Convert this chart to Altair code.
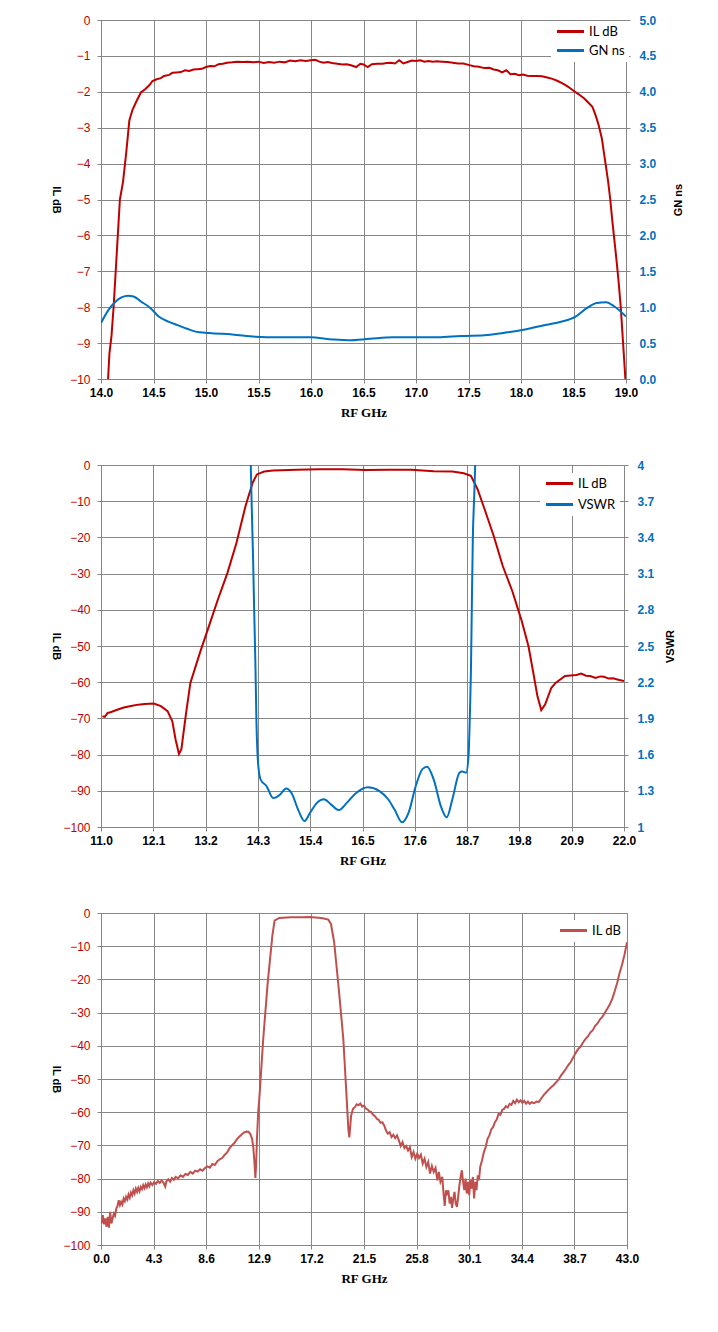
import altair as alt
import pandas as pd

RED = "#C00000"
BLUE = "#0070C0"
RED3 = "#C0504D"
GRID = "#868686"

# ---------------- Chart 1 data ----------------
c1_il_f = [14.06, 14.08, 14.10, 14.12, 14.15, 14.18, 14.21, 14.24, 14.27, 14.30, 14.34, 14.38,
           14.42, 14.46, 14.49, 14.53, 14.57, 14.60, 14.65, 14.68, 14.72, 14.76, 14.80, 14.84,
           14.88, 14.92, 14.96, 15.00, 15.04, 15.08, 15.12, 15.16, 15.20, 15.25, 15.30, 15.35,
           15.40, 15.45, 15.50, 15.55, 15.60, 15.65, 15.70, 15.75, 15.80, 15.85, 15.90, 15.95,
           16.00, 16.04, 16.08, 16.12, 16.16, 16.20, 16.25, 16.30, 16.34, 16.38, 16.43, 16.47,
           16.50, 16.54, 16.58, 16.63, 16.68, 16.72, 16.76, 16.80, 16.84, 16.88, 16.92, 16.96,
           17.00, 17.04, 17.08, 17.12, 17.16, 17.20, 17.25, 17.30, 17.35, 17.40, 17.45, 17.50,
           17.55, 17.60, 17.65, 17.70, 17.74, 17.78, 17.82, 17.86, 17.90, 17.94, 17.98, 18.02,
           18.06, 18.10, 18.15, 18.20, 18.25, 18.30, 18.35, 18.40, 18.45, 18.50, 18.55, 18.60,
           18.64, 18.68, 18.71, 18.74, 18.77, 18.79, 18.81, 18.83, 18.85, 18.87, 18.89, 18.91,
           18.93, 18.95, 18.97, 18.99, 19.00]
c1_il_db = [-10.4, -9.3, -8.8, -8.0, -6.5, -5.0, -4.5, -3.7, -2.8, -2.5, -2.25, -2.02,
            -1.93, -1.82, -1.70, -1.65, -1.62, -1.56, -1.53, -1.47, -1.46, -1.45, -1.40, -1.42,
            -1.38, -1.37, -1.36, -1.31, -1.28, -1.29, -1.23, -1.22, -1.19, -1.18, -1.16, -1.17,
            -1.16, -1.18, -1.16, -1.20, -1.17, -1.19, -1.16, -1.18, -1.13, -1.15, -1.12, -1.14,
            -1.12, -1.11, -1.16, -1.19, -1.17, -1.20, -1.22, -1.24, -1.23, -1.26, -1.31, -1.22,
            -1.24, -1.31, -1.23, -1.22, -1.22, -1.20, -1.19, -1.21, -1.12, -1.21, -1.17, -1.13,
            -1.14, -1.12, -1.16, -1.14, -1.16, -1.15, -1.16, -1.17, -1.19, -1.21, -1.21, -1.25,
            -1.29, -1.30, -1.34, -1.33, -1.38, -1.40, -1.46, -1.40, -1.51, -1.50, -1.54, -1.52,
            -1.55, -1.56, -1.56, -1.57, -1.60, -1.64, -1.70, -1.77, -1.86, -1.97, -2.07, -2.18,
            -2.30, -2.42, -2.65, -2.93, -3.30, -3.70, -4.10, -4.50, -5.00, -5.60, -6.15, -6.70,
            -7.30, -8.00, -8.90, -9.80, -10.3]
c1_gn_f = [14.00, 14.07, 14.14, 14.20, 14.26, 14.31, 14.38, 14.47, 14.55, 14.64, 14.73, 14.82,
           14.90, 15.03, 15.25, 15.47, 15.69, 15.99, 16.21, 16.36, 16.56, 16.78, 17.00, 17.21,
           17.43, 17.65, 17.87, 18.04, 18.22, 18.39, 18.52, 18.63, 18.72, 18.81, 18.89, 19.00]
c1_gn_ns = [0.78, 0.96, 1.08, 1.14, 1.16, 1.15, 1.08, 0.99, 0.87, 0.80, 0.75, 0.70,
            0.66, 0.64, 0.62, 0.59, 0.58, 0.58, 0.55, 0.54, 0.56, 0.58, 0.58, 0.58,
            0.60, 0.61, 0.65, 0.69, 0.75, 0.80, 0.87, 0.99, 1.06, 1.07, 1.01, 0.87]
c1_x_ticks = [14.0, 14.5, 15.0, 15.5, 16.0, 16.5, 17.0, 17.5, 18.0, 18.5, 19.0]
c1_yl_ticks = [0, -1, -2, -3, -4, -5, -6, -7, -8, -9, -10]
c1_yr_ticks = [0.0, 0.5, 1.0, 1.5, 2.0, 2.5, 3.0, 3.5, 4.0, 4.5, 5.0]

# ---------------- Chart 2 data ----------------
c2_il_f = [11.03, 11.08, 11.14, 11.20, 11.34, 11.48, 11.63, 11.78, 11.92, 12.11, 12.26, 12.40,
           12.50, 12.57, 12.64, 12.69, 12.74, 12.79, 12.88, 13.08, 13.27, 13.46, 13.66, 13.85,
           14.04, 14.19, 14.28, 14.43, 14.62, 15.11, 15.59, 16.07, 16.56, 17.04, 17.52, 18.00,
           18.39, 18.63, 18.78, 18.92, 19.07, 19.26, 19.45, 19.65, 19.84, 19.99, 20.08, 20.18,
           20.26, 20.34, 20.47, 20.56, 20.76, 21.00, 21.10, 21.20, 21.29, 21.40, 21.50, 21.58,
           21.68, 21.77, 21.88, 22.00]
c2_il_db = [-69.4, -69.6, -68.5, -68.3, -67.6, -67.0, -66.6, -66.2, -66.0, -65.9, -66.6, -68.0,
            -70.8, -75.9, -79.8, -78.6, -73.5, -68.5, -60.2, -51.9, -44.5, -37.1, -29.8, -21.5,
            -11.3, -4.9, -2.6, -1.8, -1.5, -1.3, -1.2, -1.2, -1.4, -1.3, -1.3, -1.7,
            -1.8, -2.3, -3.0, -6.7, -12.3, -19.6, -27.9, -34.8, -42.7, -50.0, -56.5, -63.9,
            -67.7, -66.2, -61.6, -60.2, -58.3, -58.0, -57.6, -58.2, -58.3, -58.8, -58.4, -58.5,
            -59.0, -58.9, -59.3, -59.7]
c2_vswr_f = [14.13, 14.15, 14.17, 14.20, 14.22, 14.25, 14.27, 14.29, 14.31, 14.36, 14.48, 14.62,
             14.77, 14.89, 15.01, 15.15, 15.28, 15.40, 15.54, 15.69, 15.83, 16.00, 16.17, 16.36,
             16.61, 16.85, 17.04, 17.18, 17.33, 17.47, 17.62, 17.76, 17.86, 18.00, 18.15, 18.27,
             18.39, 18.54, 18.60, 18.68, 18.73, 18.76, 18.78, 18.80, 18.82, 18.85, 18.87, 18.90]
c2_vswr = [4.6, 4.0, 3.66, 3.2, 2.83, 2.3, 1.86, 1.62, 1.50, 1.39, 1.34, 1.24,
           1.27, 1.32, 1.28, 1.14, 1.05, 1.12, 1.20, 1.23, 1.19, 1.14, 1.20, 1.28,
           1.33, 1.30, 1.23, 1.14, 1.04, 1.12, 1.34, 1.48, 1.50, 1.39, 1.17, 1.08,
           1.23, 1.45, 1.46, 1.45, 1.59, 1.95, 2.28, 2.85, 3.38, 3.75, 4.0, 4.6]
c2_x_ticks = [11.0, 12.1, 13.2, 14.3, 15.4, 16.5, 17.6, 18.7, 19.8, 20.9, 22.0]
c2_yl_ticks = [0, -10, -20, -30, -40, -50, -60, -70, -80, -90, -100]
c2_yr_ticks = [1, 1.3, 1.6, 1.9, 2.2, 2.5, 2.8, 3.1, 3.4, 3.7, 4]

# ---------------- Chart 3 data ----------------
c3_il_f = [0.05, 0.15, 0.25, 0.35, 0.45, 0.55, 0.65, 0.75, 0.85, 0.95, 1.05, 1.15,
           1.25, 1.35, 1.45, 1.55, 1.65, 1.75, 1.85, 1.95, 2.05, 2.15, 2.25, 2.35,
           2.45, 2.55, 2.65, 2.75, 2.85, 2.95, 3.05, 3.15, 3.25, 3.35, 3.45, 3.55,
           3.65, 3.75, 3.85, 3.95, 4.05, 4.20, 4.35, 4.50, 4.65, 4.80, 4.95, 5.10,
           5.25, 5.35, 5.50, 5.65, 5.80, 5.95, 6.10, 6.30, 6.50, 6.70, 6.90, 7.10,
           7.30, 7.50, 7.70, 7.90, 8.10, 8.30, 8.50, 8.70, 8.90, 9.10, 9.30, 9.50,
           9.70, 9.90, 10.10, 10.30, 10.50, 10.70, 10.90, 11.10, 11.30, 11.50, 11.70, 11.90,
           12.05, 12.20, 12.35, 12.45, 12.55, 12.62, 12.68, 12.75, 12.85, 12.96, 13.26, 13.63,
           14.01, 14.19, 14.57, 15.51, 16.50, 17.00, 17.80, 18.13, 18.58, 18.80, 19.06, 19.44,
           19.81, 20.07, 20.22, 20.30, 20.45, 20.60, 20.75, 20.90, 21.05, 21.20, 21.35, 21.50,
           21.65, 21.80, 21.95, 22.10, 22.25, 22.40, 22.55, 22.70, 22.85, 23.00, 23.15, 23.30,
           23.45, 23.60, 23.75, 23.90, 24.05, 24.20, 24.35, 24.50, 24.65, 24.80, 24.95, 25.10,
           25.25, 25.40, 25.55, 25.70, 25.85, 26.00, 26.15, 26.30, 26.45, 26.60, 26.75, 26.90,
           27.05, 27.20, 27.35, 27.50, 27.62, 27.75, 27.90, 28.00, 28.10, 28.20, 28.30, 28.40,
           28.50, 28.60, 28.70, 28.80, 28.90, 29.00, 29.10, 29.20, 29.30, 29.40, 29.50, 29.60,
           29.70, 29.80, 29.90, 30.00, 30.10, 30.20, 30.30, 30.40, 30.50, 30.60, 30.70, 30.80,
           30.90, 31.00, 31.15, 31.30, 31.45, 31.60, 31.75, 31.90, 32.05, 32.20, 32.35, 32.50,
           32.65, 32.80, 32.95, 33.10, 33.25, 33.40, 33.55, 33.70, 33.85, 34.00, 34.15, 34.30,
           34.45, 34.60, 34.75, 34.90, 35.05, 35.20, 35.40, 35.60, 35.80, 36.00, 36.20, 36.40,
           36.60, 36.80, 37.00, 37.20, 37.40, 37.60, 37.80, 38.00, 38.20, 38.40, 38.60, 38.80,
           39.00, 39.20, 39.40, 39.60, 39.80, 40.00, 40.20, 40.40, 40.60, 40.80, 41.00, 41.20,
           41.40, 41.60, 41.80, 42.00, 42.20, 42.40, 42.60, 42.80, 43.00]
c3_il_db = [-93.5, -91.0, -93.8, -92.0, -94.5, -91.5, -94.8, -90.0, -93.5, -92.0, -90.5, -91.2,
            -89.0, -88.2, -86.5, -88.0, -87.0, -87.8, -86.0, -86.8, -85.5, -86.3, -84.8, -85.8,
            -84.2, -85.0, -83.5, -84.5, -83.0, -84.0, -82.8, -83.8, -82.5, -83.2, -82.0, -82.9,
            -81.8, -82.6, -81.5, -82.3, -81.2, -81.9, -81.0, -81.6, -80.7, -81.3, -80.6, -81.2,
            -82.4, -80.8, -80.2, -80.9, -79.8, -80.4, -79.5, -79.9, -79.0, -79.5, -78.6, -78.9,
            -78.0, -78.5, -77.6, -77.9, -77.2, -77.6, -76.8, -76.3, -76.7, -75.6, -75.9, -74.8,
            -74.2, -73.8, -72.9, -72.2, -70.9, -70.0, -69.3, -68.2, -67.4, -66.7, -66.1, -65.8,
            -65.9, -66.5, -68.0, -70.5, -75.5, -79.8, -76.0, -68.0, -60.0, -55.0, -38.0, -20.9,
            -6.8, -2.3, -1.5, -1.3, -1.25, -1.2, -1.4, -1.6, -2.0, -3.3, -8.8, -22.9,
            -38.0, -55.0, -65.1, -67.6, -61.0, -59.0, -58.5, -57.6, -57.9, -57.4, -58.3, -58.0,
            -58.9, -59.2, -59.8, -60.0, -60.8, -61.2, -62.0, -62.3, -63.2, -63.0, -64.0, -65.5,
            -66.5, -66.0, -67.5, -66.8, -67.8, -67.0, -68.5, -70.2, -69.0, -70.8, -70.2, -71.5,
            -70.5, -73.5, -72.0, -74.0, -72.5, -73.8, -72.8, -75.5, -74.0, -76.5, -75.0, -78.5,
            -76.2, -78.0, -76.8, -80.5, -78.0, -81.0, -79.5, -84.5, -88.2, -83.5, -85.0, -83.5,
            -87.5, -85.5, -88.8, -86.0, -84.0, -87.5, -88.5, -85.5, -82.0, -79.5, -77.5, -81.0,
            -83.5, -80.0, -84.5, -81.0, -85.0, -80.5, -83.0, -79.5, -86.0, -81.0, -83.5, -79.0,
            -80.5, -76.5, -74.5, -72.0, -70.5, -68.0, -67.0, -65.2, -64.5, -63.0, -62.2, -60.5,
            -60.8, -59.3, -59.0, -58.2, -58.6, -57.5, -57.8, -56.6, -57.3, -56.2, -57.0, -56.4,
            -57.2, -56.6, -57.4, -56.8, -57.5, -57.0, -57.3, -56.8, -56.9, -55.8, -54.8, -54.0,
            -53.2, -52.5, -51.8, -51.0, -50.2, -49.0, -48.0, -47.0, -45.8, -44.9, -43.5, -42.2,
            -41.0, -40.3, -39.0, -38.0, -37.2, -36.0, -35.3, -34.0, -33.2, -32.0, -31.2, -30.0,
            -28.8, -27.5, -25.8, -23.5, -21.0, -18.0, -15.5, -12.5, -8.8]
c3_x_ticks = [0.0, 4.3, 8.6, 12.9, 17.2, 21.5, 25.8, 30.1, 34.4, 38.7, 43.0]
c3_yl_ticks = [0, -10, -20, -30, -40, -50, -60, -70, -80, -90, -100]


def x_axis(values):
    return alt.Axis(values=values, format=".1f", title="RF GHz", grid=True,
                    gridColor=GRID, domainColor=GRID, tickColor=GRID, tickSize=4,
                    labelFont="Liberation Sans", labelFontWeight="bold", labelFontSize=12,
                    labelColor="black", labelPadding=4, labelFlush=False, labelOverlap=False,
                    titleFont="Liberation Serif", titleFontSize=13, titleFontWeight="bold",
                    titleColor="black", titlePadding=8)


def left_axis(values, h):
    return alt.Axis(values=values, format="d", title="IL dB", orient="left", grid=True,
                    gridColor=GRID, domainColor=GRID, tickColor=GRID, tickSize=4,
                    labelFont="Liberation Sans", labelFontSize=12, labelColor=RED,
                    labelPadding=7, labelFlush=False, labelOverlap=False,
                    titleAngle=90, titleX=-46, titleY=h / 2, titleAlign="center",
                    titleBaseline="middle", titleFont="Liberation Sans", titleFontSize=11,
                    titleFontWeight="bold", titleColor="black")


def right_axis(values, fmt, title, h, tx):
    return alt.Axis(values=values, format=fmt, title=title, orient="right", grid=False,
                    domainColor=GRID, tickColor=GRID, tickSize=4,
                    labelFont="Liberation Sans", labelFontSize=12, labelFontWeight="bold",
                    labelColor=BLUE, labelPadding=9, labelFlush=False, labelOverlap=False,
                    titleAngle=270, titleX=tx, titleY=h / 2, titleAlign="center",
                    titleBaseline="middle", titleFont="Liberation Sans", titleFontSize=11,
                    titleFontWeight="bold", titleColor="black")


# line-shaped legend symbol: 27px long, but only 9px tall for the row layout
SYMBOL = "M-1,0H5"


def legend(lx, ly, rowpad):
    return alt.Legend(title=None, orient="none", legendX=lx, legendY=ly, fillColor="white",
                      padding=4, symbolType=SYMBOL, symbolSize=81, symbolStrokeWidth=3,
                      labelFont="Lato", labelFontSize=13, labelOffset=21, rowPadding=rowpad,
                      labelColor="black")


def color(domain, rng, leg):
    return alt.Color("series:N", scale=alt.Scale(domain=domain, range=rng), legend=leg)


# ---------------- Chart 1 ----------------
W1, H1 = 525, 359
d1a = pd.DataFrame({"f": c1_il_f, "v": c1_il_db, "series": "IL dB"})
d1b = pd.DataFrame({"f": c1_gn_f, "v": c1_gn_ns, "series": "GN ns"})
dom1, rng1 = ["IL dB", "GN ns"], [RED, BLUE]
leg1 = legend(450, 1, 5)
x1 = alt.X("f:Q", scale=alt.Scale(domain=[14, 19], nice=False, zero=False), axis=x_axis(c1_x_ticks))
l1a = alt.Chart(d1a).mark_line(clip=True, strokeWidth=2).encode(
    x=x1,
    y=alt.Y("v:Q", scale=alt.Scale(domain=[-10, 0], nice=False), axis=left_axis(c1_yl_ticks, H1)),
    color=color(dom1, rng1, leg1),
)
l1b = alt.Chart(d1b).mark_line(clip=True, strokeWidth=2, interpolate="monotone").encode(
    x=x1,
    y=alt.Y("v:Q", scale=alt.Scale(domain=[0, 5], nice=False),
            axis=right_axis(c1_yr_ticks, ".1f", "GN ns", H1, 52)),
    color=color(dom1, rng1, leg1),
)
ch1 = alt.layer(l1a, l1b).resolve_scale(y="independent").properties(width=W1, height=H1)

# ---------------- Chart 2 ----------------
W2, H2 = 523, 362
d2a = pd.DataFrame({"f": c2_il_f, "v": c2_il_db, "series": "IL dB"})
d2b = pd.DataFrame({"f": c2_vswr_f, "v": c2_vswr, "series": "VSWR"})
dom2, rng2 = ["IL dB", "VSWR"], [RED, BLUE]
leg2 = legend(439, 8, 7)
x2 = alt.X("f:Q", scale=alt.Scale(domain=[11, 22], nice=False, zero=False), axis=x_axis(c2_x_ticks))
l2a = alt.Chart(d2a).mark_line(clip=True, strokeWidth=2).encode(
    x=x2,
    y=alt.Y("v:Q", scale=alt.Scale(domain=[-100, 0], nice=False), axis=left_axis(c2_yl_ticks, H2)),
    color=color(dom2, rng2, leg2),
)
l2b = alt.Chart(d2b).mark_line(clip=True, strokeWidth=2, interpolate="monotone").encode(
    x=x2,
    y=alt.Y("v:Q", scale=alt.Scale(domain=[1, 4], nice=False, zero=False),
            axis=right_axis(c2_yr_ticks, "", "VSWR", H2, 46)),
    color=color(dom2, rng2, leg2),
)
ch2 = alt.layer(l2a, l2b).resolve_scale(y="independent").properties(width=W2, height=H2)

# ---------------- Chart 3 ----------------
W3, H3 = 526, 332
d3 = pd.DataFrame({"f": c3_il_f, "v": c3_il_db, "series": "IL dB"})
ch3 = alt.Chart(d3).mark_line(clip=True, strokeWidth=2).encode(
    x=alt.X("f:Q", scale=alt.Scale(domain=[0, 43], nice=False, zero=False), axis=x_axis(c3_x_ticks)),
    y=alt.Y("v:Q", scale=alt.Scale(domain=[-100, 0], nice=False), axis=left_axis(c3_yl_ticks, H3)),
    color=color(["IL dB"], [RED3], legend(453, 7, 5)),
).properties(width=W3, height=H3)

chart = alt.vconcat(ch1, ch2, ch3, spacing=38).resolve_scale(color="independent").properties(
    padding={"left": 41, "top": 5, "right": 5, "bottom": 5}
).configure_view(stroke=None).configure(background="white")

chart.save("out.html", embed_options={"renderer": "svg", "actions": False})
